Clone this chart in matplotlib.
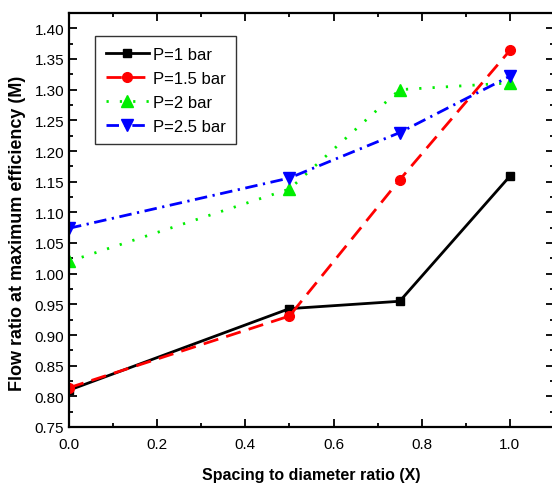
import numpy as np
import matplotlib
matplotlib.use("Agg")
import matplotlib.pyplot as plt
from matplotlib.ticker import MultipleLocator

plt.rcParams['font.family'] = ['Liberation Sans', 'DejaVu Sans']

# spacing-to-diameter ratio X and flow ratio M at max efficiency
x = [0.0, 0.5, 0.75, 1.0]
m_1bar = [0.810, 0.943, 0.955, 1.159]
m_15bar = [0.814, 0.931, 1.153, 1.364]
m_2bar = [1.020, 1.138, 1.300, 1.311]
m_25bar = [1.074, 1.156, 1.230, 1.322]

fig = plt.figure(figsize=(5.52, 4.85), dpi=100)
ax = fig.add_axes([69/552, 1 - 428/485, 485/552, 414/485])

ax.plot(x, m_1bar, color='black', ls='-', lw=2, marker='s', ms=6, label='P=1 bar')
ax.plot(x, m_15bar, color='red', ls=(0, (5.5, 3)), lw=2, marker='o', ms=7, label='P=1.5 bar')
ax.plot(x, m_2bar, color='#00ee00', ls=(0, (0.8, 4)), lw=2, marker='^', ms=8, label='P=2 bar')
ax.plot(x, m_25bar, color='blue', ls=(0, (4.5, 2, 0.8, 2)), lw=2, marker='v', ms=8, label='P=2.5 bar')

ax.set_xlim(0, 1.1)
ax.set_ylim(0.75, 1.425)
ax.xaxis.set_major_locator(MultipleLocator(0.2))
ax.xaxis.set_minor_locator(MultipleLocator(0.1))
ax.yaxis.set_major_locator(MultipleLocator(0.05))
ax.yaxis.set_minor_locator(MultipleLocator(0.025))
ax.xaxis.set_major_formatter(plt.FormatStrFormatter('%.1f'))
ax.yaxis.set_major_formatter(plt.FormatStrFormatter('%.2f'))
ax.tick_params(which='both', direction='in', top=True, right=True, labelsize=11, width=1.3)
ax.tick_params(which='major', length=6)
ax.tick_params(which='minor', length=3)
ax.tick_params(axis='x', which='major', pad=7.5)
for s in ax.spines.values():
    s.set_linewidth(1.6)

ax.set_xlabel('Spacing to diameter ratio (X)', fontsize=11.5, fontweight='bold', labelpad=11)
ax.set_ylabel('Flow ratio at maximum efficiency (M)', fontsize=13, fontweight='bold')
ax.yaxis.set_label_coords(-0.088, 0.471)

leg = ax.legend(loc='upper left', bbox_to_anchor=(0.054, 0.944), fontsize=12, fancybox=False,
                edgecolor='black', borderaxespad=0, handlelength=2.6, labelspacing=0.55,
                borderpad=0.62, handletextpad=0.25)
leg.get_frame().set_linewidth(1.0)

fig.savefig('out.png', dpi=100)
